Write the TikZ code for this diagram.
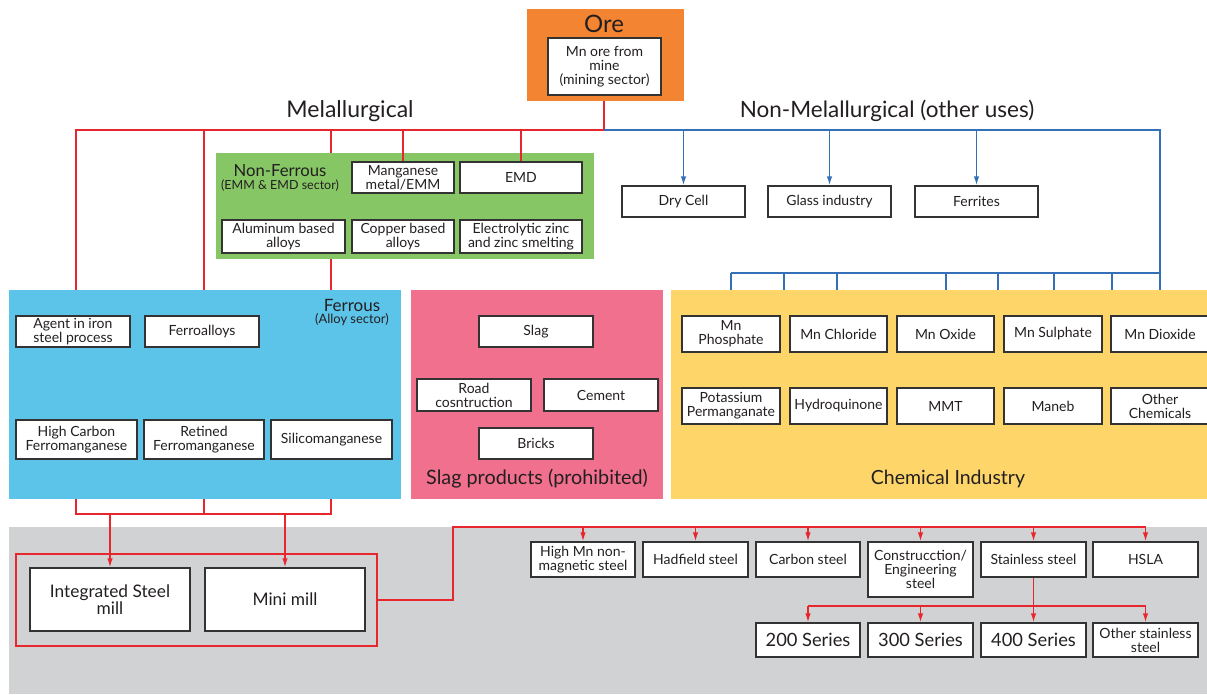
\documentclass[tikz,border=0pt]{standalone}
\usepackage{fontspec}
\setmainfont{Lato}
\usetikzlibrary{arrows.meta,fit}
\definecolor{cred}{HTML}{E8262E}
\definecolor{cblue}{HTML}{3470B8}
\definecolor{corange}{HTML}{F28432}
\definecolor{cgreen}{HTML}{86C665}
\definecolor{cfer}{HTML}{5CC3E9}
\definecolor{cpink}{HTML}{F0708E}
\definecolor{cyel}{HTML}{FDD569}
\definecolor{cgray}{HTML}{D1D2D4}
\definecolor{cbord}{HTML}{333333}
\definecolor{ctext}{HTML}{231F20}
\newcommand\wbx[7][]{\node[wbox, minimum width={(#5-#3)*1pt}, minimum height={(#6-#4)*1pt}, #1] (#2) at ({(#3+#5)/2},{(#4+#6)/2}) {#7};}
\begin{document}
\begin{tikzpicture}[x=1pt,y=-1pt,
 every node/.style={text=ctext},
 wbox/.style={draw=cbord, fill=white, line width=1.3pt, inner sep=0pt, align=center, font=\fontsize{14}{14}\selectfont},
 area/.style={inner sep=0pt, draw=none},
 lbl/.style={inner sep=0pt, align=center},
 redl/.style={draw=cred, line width=1.4pt},
 bluel/.style={draw=cblue, line width=1.4pt},
 arr/.style={-{Latex[length=9pt,width=5.5pt]}},
]
\useasboundingbox (0,0) rectangle (1207,694);
% background areas
\node[area, fill=cgray, fit={(9,527) (1207,694)}] (gray) {};
\node[area, fill=corange, fit={(527,9) (684,101)}] (ore) {};
\node[area, fill=cgreen, fit={(216,153) (594,259)}] (nonfer) {};
\node[area, fill=cfer, fit={(9,290) (401,499)}] (fer) {};
\node[area, fill=cpink, fit={(411,290) (663,499)}] (slagarea) {};
\node[area, fill=cyel, fit={(671,290) (1207,499)}] (chem) {};
% labels
\node[lbl, font=\fontsize{24}{24}\selectfont] (orelbl) at (604,24) {Ore};
\node[lbl, font=\fontsize{23}{23}\selectfont] (met) at (350,111) {Melallurgical};
\node[lbl, font=\fontsize{22.5}{22.5}\selectfont] (nonmet) at (887,111) {Non-Melallurgical (other uses)};
\node[lbl, font=\fontsize{16.7}{16.7}\selectfont] (nflbl) at (280,171) {Non-Ferrous};
\node[lbl, font=\fontsize{12.5}{12.5}\selectfont] (nfsub) at (280,186) {(EMM \& EMD sector)};
\node[lbl, font=\fontsize{17}{17}\selectfont] (ferlbl) at (352,305) {Ferrous};
\node[lbl, font=\fontsize{12.9}{12.9}\selectfont] (fersub) at (352,320) {(Alloy sector)};
\node[lbl, font=\fontsize{19.8}{19.8}\selectfont] (slaglbl) at (537,479) {Slag products (prohibited)};
\node[lbl, font=\fontsize{19.5}{19.5}\selectfont] (chemlbl) at (948,479) {Chemical Industry};
% boxes
\wbx{mine}{548}{38}{661}{95}{Mn ore from\\mine\\(mining sector)}
\wbx{mnm}{352}{162}{454}{193}{Manganese\\metal/EMM}
\wbx{emd}{460}{162}{582}{193}{EMD}
\wbx{alu}{222}{220}{345}{253}{Aluminum based\\alloys}
\wbx{cu}{352}{220}{454}{253}{Copper based\\alloys}
\wbx{zn}{460}{220}{582}{253}{Electrolytic zinc\\and zinc smelting}
\wbx{dry}{622}{186}{745}{217}{Dry Cell}
\wbx{glass}{768}{186}{891}{217}{Glass industry}
\wbx{ferr}{915}{186}{1038}{217}{Ferrites}
\wbx[align=left]{agent}{16}{316}{130}{347}{Agent in iron\\steel process}
\wbx{fa}{145}{316}{259}{347}{Ferroalloys}
\wbx{hc}{16}{420}{137}{459}{High Carbon\\Ferromanganese}
\wbx{rf}{144}{420}{264}{459}{Retined\\Ferromanganese}
\wbx{sm}{271}{420}{392}{459}{Silicomanganese}
\wbx{slag}{479}{316}{593}{347}{Slag}
\wbx{road}{417}{379}{531}{411}{Road\\cosntruction}
\wbx{cem}{544}{379}{658}{411}{Cement}
\wbx{bricks}{479}{428}{593}{459}{Bricks}
\wbx{mnp}{682}{316}{780}{352}{Mn\\Phosphate}
\wbx{mncl}{790}{316}{887}{352}{Mn Chloride}
\wbx{mno}{897}{316}{994}{352}{Mn Oxide}
\wbx{mns}{1004}{316}{1102}{352}{Mn Sulphate}
\wbx{mnd}{1111}{316}{1209}{352}{Mn Dioxide}
\wbx{kmn}{682}{388}{780}{424}{Potassium\\Permanganate}
\wbx{hq}{790}{388}{887}{424}{Hydroquinone}
\wbx{mmt}{897}{388}{994}{424}{MMT}
\wbx{maneb}{1004}{388}{1102}{424}{Maneb}
\wbx{oth}{1111}{388}{1209}{424}{Other\\Chemicals}
% mills
\node[draw=cred, line width=1.4pt, fill=none, inner sep=0pt, fit={(16,554) (377,646)}] (mills) {};
\wbx[font=\fontsize{17.3}{17}\selectfont]{ism}{30}{568}{190}{631}{Integrated Steel\\mill}
\wbx[font=\fontsize{17.3}{17}\selectfont]{mini}{205}{568}{365}{631}{Mini mill}
% steels
\wbx{hmn}{531}{542}{635}{577}{High Mn non-\\magnetic steel}
\wbx{had}{643}{542}{748}{577}{Hadfield steel}
\wbx{cs}{756}{542}{860}{577}{Carbon steel}
\wbx{ces}{868}{542}{973}{597}{Construcction/\\Engineering\\steel}
\wbx{ss}{981}{542}{1086}{577}{Stainless steel}
\wbx{hsla}{1093}{542}{1198}{577}{HSLA}
\wbx[font=\fontsize{18.3}{18}\selectfont]{s200}{756}{623}{860}{657}{200 Series}
\wbx[font=\fontsize{18.3}{18}\selectfont]{s300}{868}{623}{973}{657}{300 Series}
\wbx[font=\fontsize{18.3}{18}\selectfont]{s400}{981}{623}{1086}{657}{400 Series}
\wbx{sos}{1093}{623}{1198}{657}{Other stainless\\steel}
% red connectors (metallurgical)
\draw[redl] (ore.south -| 604,0) -- (604,130) coordinate (jr);
\draw[redl] (jr) -- (76,130) -- (76,290);
\draw[redl] (204,130) -- (204,290);
\draw[redl] (331,130) -- (nonfer.north -| 331,0);
\draw[redl] (nonfer.south -| 331,0) -- (331,290);
\draw[redl] (mnm.north |- 0,130) -- (mnm.north);
\draw[redl] (emd.north |- 0,130) -- (emd.north);
\draw[redl] (76,499) -- (76,514) -- (331,514) -- (331,499);
\draw[redl] (204,499) -- (204,514);
\draw[redl,arr] (ism.north |- 0,514) -- (ism.north);
\draw[redl,arr] (mini.north |- 0,514) -- (mini.north);
\draw[redl] (mills.east) -- (453,600) -- (453,527) -- (hsla.north |- 0,527);
\foreach \n in {hmn,had,cs,ces,ss,hsla}{
  \draw[redl,arr] (\n.north |- 0,527) -- (\n.north);
}
\draw[redl] (ss.south) -- (ss.south |- 0,606);
\draw[redl] (s200.north |- 0,606) -- (sos.north |- 0,606);
\foreach \n in {s200,s300,s400,sos}{
  \draw[redl,arr] (\n.north |- 0,606) -- (\n.north);
}
% blue connectors (non-metallurgical)
\draw[bluel] (jr) -- (1160,130) -- (1160,290);
\foreach \n in {dry,glass,ferr}{
  \draw[bluel,arr] (\n.north |- 0,130) -- (\n.north);
}
\draw[bluel] (731,273) -- (1160,273);
\foreach \x in {731,784,837,946,998,1054,1112}{
  \draw[bluel] (\x,273) -- (\x,290);
}
\end{tikzpicture}
\end{document}
